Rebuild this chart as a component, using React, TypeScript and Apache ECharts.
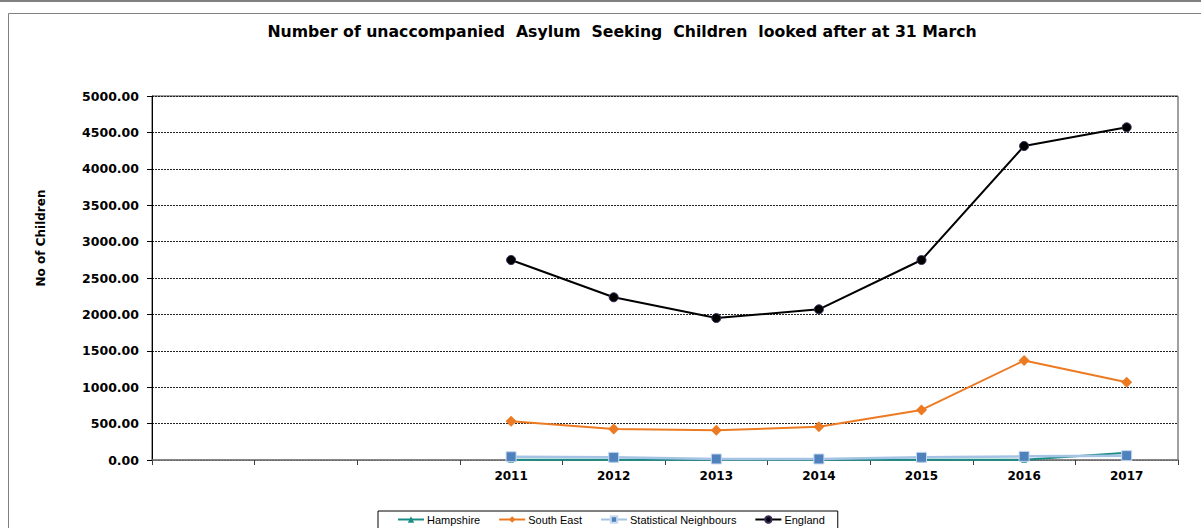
import React, { useEffect, useRef } from "react";
import * as echarts from "echarts";

const categories = ["", " ", "  ", "2011", "2012", "2013", "2014", "2015", "2016", "2017"];
const hampshire = [null, null, null, 5, 2, 2, 2, 3, 5, 100];
const southEast = [null, null, null, 532, 426, 407, 458, 688, 1366, 1068];
const statNeighbours = [null, null, null, 45, 37, 14, 14, 37, 50, 60];
const england = [null, null, null, 2747, 2235, 1950, 2070, 2747, 4313, 4570];
const yTicks = { min: 0, max: 5000, interval: 500 };
const titleText = "Number of unaccompanied  Asylum  Seeking  Children  looked after at 31 March";
const yAxisName = "No of Children";

export default function App() {
  const ref = useRef<HTMLDivElement>(null);
  useEffect(() => {
    const chart = echarts.init(ref.current!, null, { renderer: "svg" });
    const font = "DejaVu Sans";
    chart.setOption({
      animation: false,
      backgroundColor: "#fff",
      title: {
        text: titleText,
        left: 617,
        textAlign: "center",
        top: 18,
        textStyle: { fontFamily: font, fontWeight: "bold", fontSize: 15.7, color: "#000" },
      },
      graphic: [
        { type: "line", shape: { x1: 0, y1: 1, x2: 1201, y2: 1 }, style: { stroke: "#808080", lineWidth: 2 } },
        { type: "rect", shape: { x: 8.5, y: 13.5, width: 1200, height: 520 }, style: { fill: "none", stroke: "#808080", lineWidth: 1 } },
        {
          type: "text",
          x: 41,
          y: 238,
          rotation: Math.PI / 2,
          style: {
            text: yAxisName,
            fill: "#000",
            font: `bold 12px "${font}"`,
            textAlign: "center",
            textVerticalAlign: "middle",
          },
        },
      ],
      legend: {
        left: 378,
        top: 511,
        padding: [3, 13, 6, 19],
        itemGap: 18,
        itemWidth: 26,
        itemHeight: 8,
        borderColor: "#000",
        borderWidth: 1,
        textStyle: { fontFamily: "Liberation Sans", fontSize: 11, color: "#000", padding: [0, 0, 0, -2] },
        data: ["Hampshire", "South East", "Statistical Neighbours", "England"],
      },
      grid: {
        left: 152,
        top: 96,
        width: 1026,
        height: 364,
        show: true,
        borderColor: "#404040",
        borderWidth: 1,
      },
      xAxis: {
        type: "category",
        data: categories,
        boundaryGap: true,
        axisLine: { lineStyle: { color: "#808080", width: 1.5 } },
        axisTick: { show: true, interval: 0, length: 5, lineStyle: { color: "#404040" } },
        axisLabel: { interval: 0, margin: 10, fontFamily: font, fontWeight: "bold", fontSize: 12, color: "#000" },
      },
      yAxis: {
        type: "value",
        min: yTicks.min,
        max: yTicks.max,
        interval: yTicks.interval,
        axisLine: { show: true, lineStyle: { color: "#000", width: 1 } },
        axisTick: { show: true, length: 5, lineStyle: { color: "#000" } },
        axisLabel: {
          margin: 13,
          fontFamily: font,
          fontWeight: "bold",
          fontSize: 12.5,
          color: "#000",
          formatter: (v: number) => v.toFixed(2),
        },
        splitLine: { show: true, lineStyle: { color: "#222", width: 1, type: [2, 1] } },
      },
      series: [
        {
          name: "Hampshire",
          type: "line",
          data: hampshire,
          symbol: "triangle",
          symbolSize: 6,
          lineStyle: { color: "#1A8C86", width: 2 },
          itemStyle: { color: "#1A8C86" },
        },
        {
          name: "South East",
          type: "line",
          data: southEast,
          symbol: "diamond",
          symbolSize: 11,
          lineStyle: { color: "#EC7A22", width: 2 },
          itemStyle: { color: "#EC7A22" },
        },
        {
          name: "Statistical Neighbours",
          type: "line",
          data: statNeighbours,
          symbol: "rect",
          symbolSize: 10,
          lineStyle: { color: "#A5C3E4", width: 2.5 },
          itemStyle: { color: "#4F81BD", borderColor: "#C8DAF0", borderWidth: 1 },
        },
        {
          name: "England",
          type: "line",
          data: england,
          symbol: "circle",
          symbolSize: 9,
          lineStyle: { color: "#000", width: 2 },
          itemStyle: { color: "#000", borderColor: "#3A2A5A", borderWidth: 1 },
        },
      ],
    });
    return () => chart.dispose();
  }, []);
  return (
    <div
      ref={ref}
      style={{ position: "absolute", left: 0, top: 0, width: 1201, height: 528 }}
    />
  );
}
